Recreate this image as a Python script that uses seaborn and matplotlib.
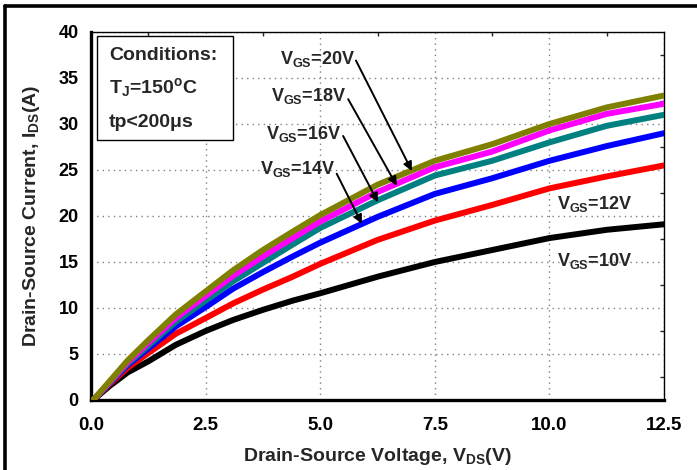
import numpy as np
import pandas as pd
import matplotlib
matplotlib.use("Agg")
import matplotlib.pyplot as plt
import seaborn as sns
from matplotlib.lines import Line2D
from matplotlib.patches import Rectangle

# ---------------- data ----------------
vds = [0.05, 0.4, 0.8, 1.25, 1.85, 2.5, 3.1, 3.75, 4.4, 5.0, 6.25, 7.5, 8.75, 10.0, 11.25, 12.5]
ids_20v = [0, 2.0, 4.3, 6.5, 9.3, 11.8, 14.1, 16.3, 18.3, 20.1, 23.4, 26.0, 27.8, 30.0, 31.8, 33.1]
ids_18v = [0, 1.9, 4.1, 6.2, 8.9, 11.3, 13.5, 15.6, 17.6, 19.4, 22.6, 25.3, 27.0, 29.3, 31.1, 32.2]
ids_16v = [0, 1.85, 3.95, 5.9, 8.5, 10.8, 12.9, 14.9, 16.9, 18.7, 21.7, 24.4, 26.0, 28.0, 29.8, 31.0]
ids_14v = [0, 1.8, 3.8, 5.6, 8.0, 10.1, 12.1, 13.9, 15.6, 17.1, 19.9, 22.4, 24.1, 26.0, 27.6, 29.0]
ids_12v = [0, 1.7, 3.5, 5.1, 7.2, 8.9, 10.5, 12.0, 13.4, 14.8, 17.4, 19.5, 21.2, 23.0, 24.3, 25.5]
ids_10v = [0, 1.5, 3.0, 4.2, 6.0, 7.5, 8.7, 9.8, 10.8, 11.6, 13.4, 15.0, 16.3, 17.6, 18.5, 19.1]

series_names = ["10V", "12V", "14V", "16V", "18V", "20V"]
series_vals = [ids_10v, ids_12v, ids_14v, ids_16v, ids_18v, ids_20v]
series_colors = ["#000000", "#FF0000", "#0000FF", "#008080", "#FF00FF", "#808000"]

x_ticks = [0.0, 2.5, 5.0, 7.5, 10.0, 12.5]
y_ticks = [0, 5, 10, 15, 20, 25, 30, 35, 40]

rows = []
for name, vals in zip(series_names, series_vals):
    for x, y in zip(vds, vals):
        rows.append({"VDS": x, "IDS": y, "VGS": name})
df = pd.DataFrame(rows)

# ---------------- style ----------------
sns.set_style("white")
plt.rcParams["font.family"] = ["Liberation Sans", "DejaVu Sans"]
plt.rcParams["font.weight"] = "bold"
plt.rcParams["mathtext.fontset"] = "custom"
plt.rcParams["mathtext.rm"] = "Liberation Sans:bold"
plt.rcParams["mathtext.bf"] = "Liberation Sans:bold"
plt.rcParams["mathtext.it"] = "Liberation Sans:bold"
plt.rcParams["mathtext.default"] = "bf"

fig = plt.figure(figsize=(6.97, 4.70), dpi=100)
ax = fig.add_axes([91 / 697, 1 - 400 / 470, (664 - 91) / 697, (400 - 32) / 470])

sns.lineplot(data=df, x="VDS", y="IDS", hue="VGS", hue_order=series_names,
             palette=dict(zip(series_names, series_colors)), linewidth=4.3,
             legend=False, ax=ax, zorder=3)
for ln in ax.get_lines():
    ln.set_solid_joinstyle("round")
    ln.set_solid_capstyle("round")

ax.set_xlim(0, 12.5)
ax.set_ylim(0, 40)
ax.set_xticks(x_ticks)
ax.set_xticklabels([f"{v:.1f}" for v in x_ticks])
ax.set_yticks(y_ticks)
ax.set_yticklabels([str(v) for v in y_ticks])
ax.set_xticks(np.arange(1.25, 12.5, 2.5), minor=True)
ax.set_yticks(np.arange(2.5, 40, 5), minor=True)

ax.grid(True, which="major", linestyle=(0, (1, 3)), color="#808080", linewidth=1.0)
ax.set_axisbelow(True)

for s in ["left", "bottom"]:
    ax.spines[s].set_linewidth(2.4)
    ax.spines[s].set_color("black")
for s in ["top", "right"]:
    ax.spines[s].set_linewidth(1.0)
    ax.spines[s].set_color("black")

ax.tick_params(axis="both", which="major", direction="out", length=6, width=2.2,
               labelsize=13, pad=3, colors="black")
ax.tick_params(axis="both", which="minor", direction="in", length=3, width=1.0,
               top=True, right=True)
ax.tick_params(axis="x", which="major", labelsize=13.5, pad=6)
for lab in ax.get_xticklabels() + ax.get_yticklabels():
    lab.set_fontweight("bold")

ax.set_xlabel(r"Drain-Source Voltage, V$_{DS}$(V)", fontsize=14, fontweight="bold", labelpad=9)
ax.set_ylabel(r"Drain-Source Current, I$_{DS}$(A)", fontsize=14, fontweight="bold", labelpad=12)

# conditions box
box = Rectangle((0.0105, 0.7065), 0.237, 0.2825, transform=ax.transAxes,
                facecolor="white", edgecolor="black", linewidth=1.0, zorder=5)
ax.add_patch(box)
cond_x = 0.031
ax.text(cond_x, 0.9375, "Conditions:", transform=ax.transAxes, fontsize=14,
        fontweight="bold", va="center", ha="left", zorder=6)
ax.text(cond_x, 0.8505, r"T$_J$=150$^{o}$C", transform=ax.transAxes, fontsize=14,
        fontweight="bold", va="center", ha="left", zorder=6)
ax.text(cond_x, 0.755, "tp<200\u03bcs", transform=ax.transAxes, fontsize=14,
        fontweight="bold", va="center", ha="left", zorder=6)

# labels with arrows
arrow_labels = [
    ("20V", 5.76, 36.5, (5.78, 36.9), (7.0, 24.9)),
    ("18V", 5.58, 32.5, (5.61, 32.7), (6.67, 23.3)),
    ("16V", 5.47, 28.4, (5.50, 28.7), (6.26, 21.5)),
    ("14V", 5.32, 24.6, (5.36, 24.6), (5.91, 19.15)),
]
for name, tx, ty, tail, tip in arrow_labels:
    ax.text(tx, ty, r"V$_{GS}$=" + name, fontsize=13, fontweight="bold",
            ha="right", va="baseline", zorder=6)
    ax.annotate("", xy=tip, xytext=tail,
                arrowprops=dict(arrowstyle="-|>", color="black", lw=1.4,
                                mutation_scale=13, shrinkA=0, shrinkB=0),
                zorder=6)

ax.text(10.16, 20.8, r"V$_{GS}$=12V", fontsize=13, fontweight="bold",
        ha="left", va="baseline", zorder=6)
ax.text(10.16, 14.6, r"V$_{GS}$=10V", fontsize=13, fontweight="bold",
        ha="left", va="baseline", zorder=6)

# outer frame lines (top and left)
fig.add_artist(Line2D([4.5 / 697, 1.0], [1 - 6 / 470, 1 - 6 / 470],
                      transform=fig.transFigure, color="black", linewidth=2.6))
fig.add_artist(Line2D([4.5 / 697, 4.5 / 697], [0, 1 - 6 / 470],
                      transform=fig.transFigure, color="black", linewidth=2.6))

fig.savefig("out.png", dpi=100)
